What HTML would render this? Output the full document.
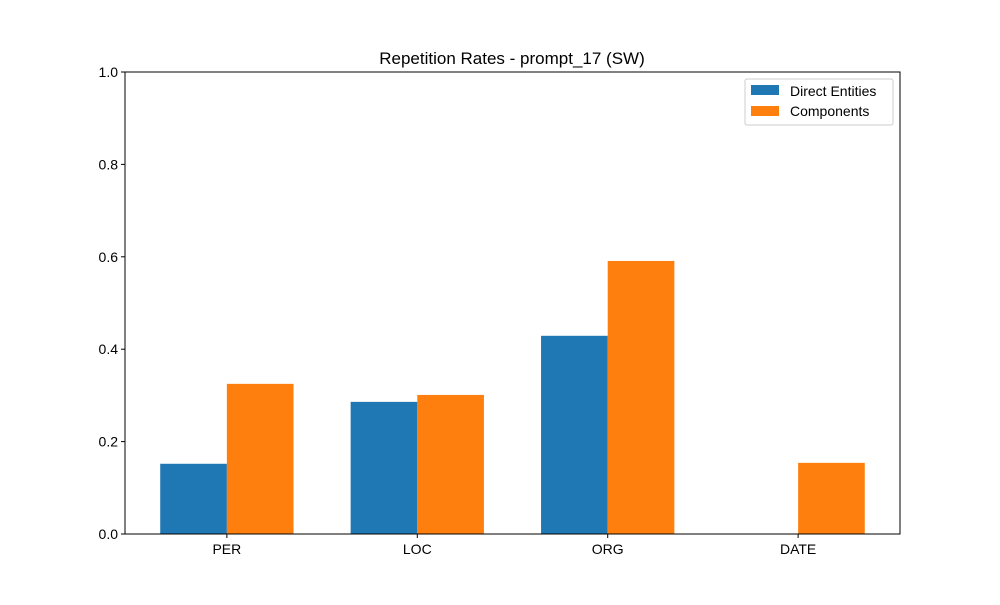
<!DOCTYPE html>
<html><head><meta charset="utf-8"><style>
body{margin:0;background:#fff;}
svg text{font-family:"Liberation Sans","DejaVu Sans",sans-serif;}
</style></head><body>
<svg id="chart" width="1000" height="600" xmlns="http://www.w3.org/2000/svg">
<rect width="1000" height="600" fill="#fff"/>
<text x="512" y="64" text-anchor="middle" font-size="17">Repetition Rates - prompt_17 (SW)</text>
<g id="bars"></g>
<g id="axes"></g>
<g>
<rect x="745" y="79" width="148" height="46" fill="#fff" stroke="#ccc" rx="2"/>
<rect x="751" y="85" width="28" height="10" fill="#1f77b4"/>
<text x="790" y="96" font-size="14">Direct Entities</text>
<rect x="751" y="106" width="28" height="10" fill="#ff7f0e"/>
<text x="790" y="116" font-size="14">Components</text>
</g>
</svg>
<script>
const categories = ["PER","LOC","ORG","DATE"];
const directValues = [0.152, 0.286, 0.429, 0];
const componentValues = [0.325, 0.301, 0.591, 0.154];
const yTicks = [0, 0.2, 0.4, 0.6, 0.8, 1.0];
const yTickLabels = ["0.0","0.2","0.4","0.6","0.8","1.0"];

const NS="http://www.w3.org/2000/svg";
const L=125,R=900,T=72,B=534,bw=0.35;
const xmin=-bw-0.05*(categories.length-1+2*bw), xmax=categories.length-1+bw+0.05*(categories.length-1+2*bw);
const x=v=>L+(v-xmin)/(xmax-xmin)*(R-L);
const y=v=>B-v*(B-T);
function mk(tag,attrs,parent){const e=document.createElementNS(NS,tag);for(const k in attrs)e.setAttribute(k,attrs[k]);parent.appendChild(e);return e;}
const bars=document.getElementById('bars'), axes=document.getElementById('axes');
categories.forEach((c,i)=>{
  let r=mk('rect',{x:x(i-bw),y:y(directValues[i]),width:x(i)-x(i-bw),height:y(0)-y(directValues[i]),fill:'#1f77b4'},bars);
  
  
  r=mk('rect',{x:x(i),y:y(componentValues[i]),width:x(i+bw)-x(i),height:y(0)-y(componentValues[i]),fill:'#ff7f0e'},bars);
  
  
  mk('line',{x1:x(i),x2:x(i),y1:B,y2:B+4,stroke:'#000'},axes);
  const t=mk('text',{x:x(i),y:B+20,'text-anchor':'middle','font-size':14},axes);
  t.textContent=c;
  
  
});
yTicks.forEach((v,i)=>{
  mk('line',{x1:L-4,x2:L,y1:y(v),y2:y(v),stroke:'#000'},axes);
  const t=mk('text',{x:L-7,y:y(v)+5,'text-anchor':'end','font-size':14},axes);
  t.textContent=yTickLabels[i];
  
  
});
const f=mk('rect',{x:L,y:T,width:R-L,height:B-T,fill:'none',stroke:'#000','stroke-width':1},axes);


</script>
</body></html>
